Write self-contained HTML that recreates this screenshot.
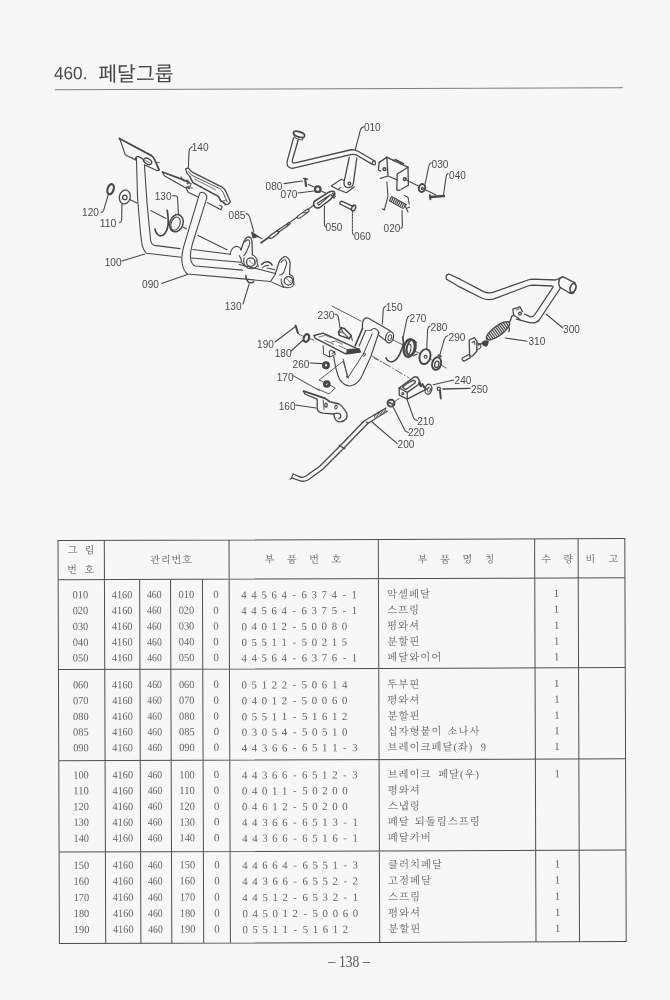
<!DOCTYPE html>
<html lang="ko"><head><meta charset="utf-8"><title>460. 페달그룹</title>
<style>
html,body{margin:0;padding:0;background:#f7f7f7;}
body{width:670px;height:1000px;overflow:hidden;position:relative;}
svg{position:absolute;left:0;top:0;display:block;filter:grayscale(1);}
text{font-family:"Liberation Serif","Noto Serif CJK SC",serif;fill:#4a4a4a;}
.ttl text{font-family:"Liberation Sans","Noto Sans CJK KR",sans-serif;fill:#484848;}
.tl *{fill:none;stroke:#4e4e4e;stroke-width:1;}
.pn text{fill:#5a5a5a;}
.hd text{fill:#606060;}
.bd text{fill:#626262;}
.bd .k{letter-spacing:0.95px;}
.dg{fill:none;stroke:#484848;stroke-width:1;stroke-linecap:round;stroke-linejoin:round;}
.dg text{font-family:"Liberation Sans","Noto Sans CJK KR",sans-serif;fill:#4c4c4c;stroke:none;font-size:10px;}
</style></head>
<body>
<svg width="670" height="1000" viewBox="0 0 670 1000">
<rect width="670" height="1000" fill="#f7f7f7"/>
<g>
<g class="ttl" transform="rotate(-0.2 339 88.75)">
<g><text x="54" y="78.4" font-size="18" textLength="33.5" lengthAdjust="spacingAndGlyphs">460.</text>
<text x="98.2" y="80.4" font-size="20.5" textLength="75.5" lengthAdjust="spacingAndGlyphs">페달그룹</text></g>
<path d="M55 88.75H623" stroke="#707070" stroke-width="0.9" fill="none"/>
</g>
<g class="dg">
<g transform="translate(90 120) scale(0.2)" stroke-width="5.4">
<path d="M232 186L238 395L252 560Q258 620 264 636Q270 656 282 666L455 686"/>
<path d="M272 224L285 412L296 528L303 600Q306 622 322 627L450 643"/>
<ellipse cx="174" cy="385" rx="27" ry="35" transform="rotate(14 174 385)" stroke-width="6.48"/>
<circle cx="174" cy="387" r="11" stroke-width="6.48"/>
<ellipse cx="103" cy="346" rx="15" ry="26" transform="rotate(18 103 346)" stroke-width="10.8"/>
<path d="M92 372L68 452Q64 462 56 462M160 420L158 500Q157 512 148 514"/>
<path d="M199 397L234 415M304 453L380 492M466 536L482 545M540 577L685 649"/>
<ellipse cx="432" cy="516" rx="33" ry="44" transform="rotate(20 432 516)" stroke-width="7.56"/>
<ellipse cx="428" cy="518" rx="22" ry="34" transform="rotate(20 428 518)"/>
<path d="M386 452Q394 500 390 528Q380 580 350 580Q330 572 325 546" stroke-width="8.64"/>
<path d="M414 378L432 380Q438 382 438 392L442 470"/>
<path d="M512 134Q496 140 495 158L492 236"/>
</g>

<g transform="translate(100 125) scale(0.14925)" stroke-width="7.56">
<path d="M130 90L345 205Q362 218 370 240L396 300" stroke-width="11.88"/>
<path d="M130 90L142 120L168 196Q172 204 184 208L236 232M300 268L384 306L396 300"/>
<path d="M238 234Q236 208 258 212Q290 222 300 252"/>
<path d="M292 232Q300 218 318 222L340 236Q352 246 344 260Q334 270 318 264L298 250Q288 242 292 232Z" stroke-width="8.64"/>
<path d="M306 238L334 256" stroke-width="5.4"/>
<path d="M384 250L400 253" stroke-width="5.4"/>
</g>
<g transform="translate(160 160) scale(0.1194)" stroke-width="9.07">
<path d="M215 75Q228 64 242 72L266 100L515 225Q538 238 548 256L590 350L570 370L545 375" stroke-width="10.8"/>
<path d="M215 75L225 110L250 140"/>
<path d="M236 96L262 126L500 240Q520 252 528 270L562 350" stroke-width="7.56"/>
<path d="M250 140L276 190L480 300Q498 312 506 340L545 366" stroke-width="12.96" stroke-dasharray="16 4"/>
<path d="M290 160L470 252" stroke-width="6.48" stroke-dasharray="10 7"/>
<path d="M505 340L520 346L545 340" stroke-width="7.56"/>
<path d="M20 100L180 160L244 186" stroke-width="14.04"/>
<path d="M20 100L36 132L220 236L236 270L320 310"/>
<path d="M176 140L196 176L236 168L226 200L262 196L248 232L272 236M220 236L250 216" stroke-width="7.56"/>
<path d="M226 226L244 238" stroke-width="12.96"/>
<path d="M396 356L510 416L520 390L500 380" />
</g>
<g transform="translate(150 130) scale(0.2)" stroke-width="5.4">
<path d="M480 418Q494 420 497 432L519 508"/>
<path d="M508 510L541 532L516 540Z" fill="#444" stroke-width="5.4"/>
<path d="M534 530L560 544"/>
</g>
<g transform="translate(160 180) scale(0.13433)" stroke-width="7.99">
<path d="M295 100Q315 80 340 105Q350 118 348 135"/>
<path d="M295 100L175 500Q158 570 165 620Q175 680 205 700L639 738L822 756"/>
<path d="M348 135L240 480Q222 550 228 590Q238 632 262 640L614 671"/>
<path d="M243 517L523 553M235 580L602 612"/>
<path d="M-283 603L-112 551M12 771L204 704"/>
</g>
<g transform="translate(190 225) scale(0.16418)" stroke-width="6.48">
<path d="M245 180Q250 140 280 130Q305 132 312 152"/>
<path d="M300 186Q312 200 314 222"/>
<path d="M310 152L330 96Q342 72 360 72Q378 78 378 110L380 182" stroke-width="7.56"/>
<path d="M334 104Q346 86 358 92Q368 100 362 120L345 160Q338 180 328 186" stroke-width="6.48"/>
<circle cx="370" cy="226" r="26" stroke-width="7.56"/>
<path d="M392 210L398 238M360 215L384 240" stroke-width="4.32"/>
<path d="M330 200Q322 232 338 252Q356 270 384 266Q402 260 408 248"/>
<path d="M380 182Q400 190 410 215"/>
<path d="M406 216L416 256M420 270L520 296M300 240L420 270"/>
<path d="M436 240Q452 222 476 224Q494 230 500 244" stroke-width="9.72"/>
<path d="M440 262Q456 244 478 246M470 262L516 272"/>
<path d="M520 296L544 222Q558 196 580 192Q604 198 610 230L606 302" stroke-width="7.56"/>
<path d="M554 228Q566 208 580 212Q592 222 588 240L570 290Q560 306 546 304"/>
<circle cx="600" cy="340" r="26" stroke-width="7.56"/>
<path d="M588 326L612 352M618 340L640 366" stroke-width="4.32"/>
<path d="M556 328Q552 360 572 376Q600 390 626 372Q640 352 626 312L606 302"/>
<path d="M490 345L520 300M498 348L572 380"/>
<path d="M310 226L336 250"/>
<path d="M340 308Q342 340 360 350Q376 354 388 346" stroke-width="9.72"/>
<path d="M360 360L323 481"/>
</g>
<g transform="translate(250 110) scale(0.2)" stroke-width="5.4">
<ellipse cx="245" cy="122" rx="29" ry="13" transform="rotate(18 245 122)" stroke-width="8.64"/>
<path d="M222 128L226 140M266 140L262 150M226 140Q240 150 262 150" stroke-width="4.32"/>
<path d="M218 138L186 256Q180 290 212 292L508 222Q522 220 534 226L612 272" stroke-width="6.48"/>
<path d="M242 146L212 250Q208 268 226 264L500 200Q522 196 540 206L626 256" stroke-width="6.48"/>
<ellipse cx="620" cy="265" rx="7" ry="10" transform="rotate(-30 620 265)"/>
<path d="M496 238L470 362Q468 384 488 388Q510 390 516 372L534 240" stroke-width="6.48"/>
<circle cx="497" cy="368" r="7" stroke-width="6.48"/>
<path d="M406 380L456 346L470 352M406 380L440 398L482 414L522 384M440 398L452 388"/>
<path d="M276 344L280 380" stroke-width="10.8"/>
<path d="M268 342L288 346" stroke-width="6.48"/>
<circle cx="339" cy="396" r="14" stroke-width="10.8"/>
<path d="M170 368L262 355M240 415L320 405M292 372L318 384M358 406L380 416"/>
<path d="M458 456L516 482M450 470L506 498M458 456Q448 460 450 470" stroke-width="6.48"/>
<ellipse cx="518" cy="490" rx="9" ry="15" transform="rotate(25 518 490)" stroke-width="7.56"/>
<path d="M372 482L372 570Q373 584 382 586"/>
<path d="M512 506L512 610Q513 624 522 626" stroke-dasharray="9 6"/>
<path d="M570 84Q556 86 552 100L526 200"/>
</g>

<g transform="translate(250 170) scale(0.1791)" stroke-width="6.05">
<path d="M358 176L440 124Q456 116 470 120L474 134L448 166L392 208Q374 218 362 206Q350 192 358 176Z" stroke-width="8.64"/>
<path d="M376 186L446 140Q440 150 384 196Z" stroke-width="6.48"/>
<path d="M452 138L470 156M462 130L474 146" stroke-width="8.64"/>
<path d="M356 196L322 222" stroke-width="6.48"/>
<path d="M322 218L268 256Q260 264 266 268Q272 272 282 266L330 230Q332 222 322 218Z" stroke-width="6.48"/>
<path d="M300 240Q312 232 318 238" stroke-width="5.4"/>
<path d="M262 264L218 296M214 292L206 308L226 300" stroke-width="6.48"/>
<path d="M208 300L152 338L158 348L214 310" stroke-width="6.48"/>
<path d="M150 340L112 366Q104 374 110 380Q118 384 126 378L160 352Q162 342 150 340Z" stroke-width="7.56"/>
<path d="M108 374L62 406" stroke-width="9.72"/>
</g>
<g transform="translate(360 120) scale(0.2)" stroke-width="5.4">
<path d="M96 212L134 186L240 236" stroke-width="7.56" stroke-dasharray="14 5"/>
<path d="M96 212L92 250L104 256M134 186L140 280L102 292M140 280L186 300" stroke-width="6.48"/>
<path d="M240 236L186 270L184 350L200 352M240 236L242 326L206 346" stroke-width="6.48"/>
<circle cx="122" cy="246" r="7" stroke-width="7.56"/>
<circle cx="224" cy="296" r="7" stroke-width="7.56"/>
<path d="M176 198L216 218" stroke-width="8.64" stroke-dasharray="8 6"/>
<path d="M236 302L292 330M330 350L378 374" />
<ellipse cx="310" cy="340" rx="16" ry="20" transform="rotate(15 310 340)" stroke-width="9.72"/>
<circle cx="312" cy="342" r="5" stroke-width="5.4"/>
<path d="M350 385L420 380" stroke-width="11.88"/>
<path d="M350 376L352 396" stroke-width="9.72"/>
<path d="M150 392L226 432" stroke-width="25.92" stroke-dasharray="6 4" stroke-linecap="butt"/>
<path d="M146 404L214 442M160 384L232 424" stroke-width="5.4"/>
<path d="M134 310L140 380L122 450L112 444" />
<path d="M222 378L240 386L246 420M226 430L240 460M236 440L248 436"/>
<path d="M210 452L212 530Q212 540 204 542"/>
<path d="M356 214Q346 218 344 232L326 318"/>
<path d="M440 268Q432 272 430 286L418 374"/>
</g>
<g transform="translate(250 300) scale(0.2)" stroke-width="5.4">
<path d="M125 210L226 134"/>
<path d="M228 128L240 166" stroke-width="9.72"/>
<path d="M205 255L266 200"/>
<ellipse cx="282" cy="190" rx="13" ry="20" transform="rotate(18 282 190)" stroke-width="10.8"/>
<path d="M296 192L318 200M246 172L262 180" stroke-width="4.32"/>
<path d="M300 315L360 318"/>
<circle cx="380" cy="326" r="13" stroke-width="14.04"/>
<path d="M215 378L346 452"/>
<circle cx="384" cy="420" r="12" stroke-width="14.04"/>
<path d="M346 400L466 306L490 386M346 400L426 440L396 470L340 446" stroke-width="4.32"/>
<path d="M425 70Q440 72 442 86L450 140"/>
<path d="M442 162L456 138L471 142L505 176L497 194L447 177Z" stroke-width="7.56"/>
<path d="M456 138L463 159L497 194M463 159L442 162M505 176L512 202" stroke-width="5.4"/>
<path d="M410 30L556 106" stroke-width="4.32"/>
<path d="M620 290L670 316" stroke-width="4.32" stroke-linecap="butt" stroke-dasharray="24 9 7 9"/>
<path d="M228 525L330 540"/>
<path d="M268 456L376 492" stroke-width="9.72"/>
<path d="M268 456L274 470L336 496L336 546Q340 562 366 566L420 570Q420 598 440 608Q464 614 482 594Q490 574 478 556Q462 530 446 520L404 510L376 492" stroke-width="6.48"/>
<path d="M420 570Q440 560 452 572Q458 586 444 594" stroke-width="6.48"/>
<ellipse cx="380" cy="526" rx="6" ry="10" stroke-width="6.48"/>
<ellipse cx="430" cy="536" rx="6" ry="9" transform="rotate(20 430 536)" stroke-width="5.4"/>
<path d="M366 500L370 548M380 496L396 512" stroke-width="4.32"/>
</g>

<g transform="translate(295 320) scale(0.1194)" stroke-width="9.07">
<path d="M160 130L236 110L530 244" stroke-width="11.88"/>
<path d="M160 130L168 152L420 282L546 266" stroke-width="10.8"/>
<path d="M200 142L256 128L300 148M250 170L330 206M300 186L340 176L400 204M370 216L440 250" stroke-width="6.48" stroke-dasharray="14 8"/>
<path d="M440 246L540 240L550 270L430 286Z" fill="#444" stroke-width="6.48"/>
<path d="M236 214L240 286L290 310L336 290L332 262M290 310L288 262L300 250L330 268L312 282" stroke-width="8.64"/>
</g>
<g transform="translate(360 290) scale(0.2)" stroke-width="5.4">
<path d="M130 80Q118 84 116 98L112 170"/>
<path d="M60 330L246 440" stroke-width="4.32" stroke-linecap="butt" stroke-dasharray="40 10 8 10"/>
<path d="M246 130Q236 134 234 148L216 234"/>
<path d="M214 236Q222 270 206 302Q190 350 160 360Q138 358 130 340" stroke-width="8.64"/>
<ellipse cx="246" cy="290" rx="27" ry="44" transform="rotate(12 246 290)" stroke-width="11.88"/>
<ellipse cx="257" cy="288" rx="22" ry="40" transform="rotate(12 257 288)" stroke-width="8.64"/>
<ellipse cx="242" cy="296" rx="12" ry="26" transform="rotate(12 242 296)" stroke-width="5.4"/>
<path d="M262 250L284 262M266 330L286 320" stroke-width="5.4"/>
<path d="M350 180Q340 184 338 198L334 290"/>
<ellipse cx="325" cy="333" rx="27" ry="38" transform="rotate(15 325 333)" stroke-width="9.72"/>
<circle cx="328" cy="334" r="7"/>
<path d="M440 228Q426 232 422 246L400 322"/>
<ellipse cx="383" cy="368" rx="22" ry="32" transform="rotate(15 383 368)" stroke-width="9.72"/>
<ellipse cx="384" cy="372" rx="10" ry="17" transform="rotate(15 384 372)" stroke-width="6.48"/>
<path d="M392 326L404 332" stroke-width="9.72"/>
<path d="M166 250L214 274M276 306L300 318M352 346L366 354M408 376L430 390" stroke-width="4.32"/>
<path d="M546 250L572 238L584 256L584 306L560 332L548 330L546 250Z" stroke-width="6.48"/>
<path d="M560 262L572 256L574 272" stroke-width="5.4"/>
<path d="M512 340L548 320M520 356L552 338M512 340Q506 350 520 356" stroke-width="6.48"/>
<path d="M584 300L604 288L604 272L586 264" stroke-width="5.4"/>
<path d="M612 268Q622 254 640 262L632 280Q620 282 612 268Z" fill="#444" stroke-width="6.48"/>
<path d="M196 490L270 436Q284 430 292 444L300 462" stroke-width="7.56"/>
<path d="M196 490L196 526L236 546L340 492" stroke-width="6.48"/>
<path d="M196 490L236 512L236 546M236 512L302 466" stroke-width="6.48"/>
<path d="M212 486Q240 462 266 452Q280 452 276 464L230 498Z" stroke-width="6.48"/>
<circle cx="214" cy="518" r="5" stroke-width="5.4"/>
<path d="M296 466L306 480" stroke-width="12.96"/>
<path d="M312 470L322 488" stroke-width="9.72"/>
<ellipse cx="342" cy="496" rx="17" ry="25" transform="rotate(12 342 496)" stroke-width="6.48"/>
<ellipse cx="344" cy="498" rx="8" ry="12" transform="rotate(12 344 498)" stroke-width="4.32"/>
<path d="M468 450L366 474"/>
<path d="M550 492L414 495" stroke-width="6.48"/>
<circle cx="394" cy="494" r="8" stroke-width="6.48"/>
<path d="M400 502L404 542" stroke-width="9.72"/>
<path d="M236 550L268 640Q274 652 286 652"/>
<circle cx="155" cy="566" r="17" stroke-width="9.72"/>
<path d="M140 560L170 574" stroke-width="8.64"/>
<path d="M176 556L196 542" stroke-width="4.32"/>
<path d="M166 586L224 700Q230 712 242 712"/>
</g>
<g transform="translate(320 300) scale(0.14925)" stroke-width="7.56">
<path d="M472 208L328 124Q300 110 288 142Q282 164 285 190" stroke-width="8.64"/>
<path d="M396 238L442 274"/>
<ellipse cx="466" cy="250" rx="26" ry="38" transform="rotate(18 466 250)" stroke-width="8.64"/>
<ellipse cx="468" cy="252" rx="12" ry="19" transform="rotate(18 468 252)" stroke-width="6.48"/>
<path d="M285 190L236 306" stroke-width="10.8"/>
<path d="M306 204L262 308"/>
<path d="M345 202Q366 174 395 216"/>
<path d="M395 216L340 380L276 520Q250 570 200 576Q160 574 130 530Q104 470 92 376"/>
<path d="M350 226L290 362L186 522L156 396" stroke-width="6.48"/>
<path d="M306 204L345 202" stroke-width="5.4"/>
<ellipse cx="296" cy="366" rx="7" ry="12" transform="rotate(28 296 366)" stroke-width="5.4"/>
<path d="M176 512L190 524" stroke-width="6.48"/>
</g>
<g transform="translate(460 250) scale(0.2)" stroke-width="5.4">
<path d="M-67 146Q-76 124 -55 120L0 146L118 208Q140 218 164 212L340 150Q352 146 366 146L478 150L512 134" stroke-width="6.48"/>
<path d="M-67 146L0 186L108 240Q136 252 166 246L340 180Q352 176 366 176L462 180" stroke-width="6.48"/>
<path d="M502 190L396 350Q380 368 352 364L282 346" stroke-width="6.48"/>
<path d="M466 184L376 320Q366 336 352 334L322 320" stroke-width="6.48"/>
<path d="M496 150Q498 138 516 134L576 164M500 186L546 214" stroke-width="6.48"/>
<path d="M496 150Q490 170 500 186" stroke-width="6.48"/>
<ellipse cx="565" cy="190" rx="14" ry="23" transform="rotate(18 565 190)" stroke-width="8.64"/>
<path d="M546 214Q556 222 570 214" stroke-width="6.48"/>
<path d="M264 296L300 284L312 308M264 296L268 326L300 346" stroke-width="6.48"/>
<circle cx="300" cy="318" r="7" stroke-width="6.48"/>
<path d="M282 300L296 294" stroke-width="4.32"/>
<clipPath id="c310"><ellipse cx="190" cy="404" rx="70" ry="24" transform="rotate(-36 190 404)"/></clipPath>
<path d="M126 450L254 358" stroke-width="64.8" stroke-dasharray="6 5" stroke-linecap="butt" clip-path="url(#c310)"/>
<ellipse cx="190" cy="404" rx="70" ry="24" transform="rotate(-36 190 404)" stroke-width="6.48"/>
<path d="M246 362Q256 350 258 332L270 326M240 380Q252 392 244 408" stroke-width="6.48"/>
<path d="M112 462Q124 450 140 456L136 474Q122 478 112 462Z" fill="#444" stroke-width="6.48"/>
<path d="M90 476L112 466" stroke-width="6.48"/>
<path d="M430 320L514 390M226 440L336 456"/>
</g>
<g transform="translate(280 380) scale(0.2)" stroke-width="5.4">
<path d="M530 140L420 205L300 330L200 430L130 480Q112 490 98 484L66 470" stroke-width="6.48"/>
<path d="M536 156L440 216L320 340L214 446L140 500Q118 510 102 504L58 490" stroke-width="6.48"/>
<path d="M66 470L56 492M50 496L64 490" stroke-width="5.4"/>
<path d="M296 326L324 344" stroke-width="6.48"/>
<path d="M430 210L446 214" stroke-width="5.4"/>
<path d="M470 182L532 146" stroke-width="17.28" stroke-dasharray="4 4" stroke-linecap="butt"/>
<path d="M460 210L586 318"/>
</g>
<g class="lb">
<text x="363.9" y="131" textLength="16.8" lengthAdjust="spacingAndGlyphs">010</text>
<text x="191.7" y="150.5" textLength="16.8" lengthAdjust="spacingAndGlyphs">140</text>
<text x="154.7" y="200.4" textLength="16.8" lengthAdjust="spacingAndGlyphs">130</text>
<text x="82.1" y="216" textLength="16.8" lengthAdjust="spacingAndGlyphs">120</text>
<text x="99.7" y="227" textLength="16.8" lengthAdjust="spacingAndGlyphs">110</text>
<text x="104.7" y="266" textLength="16.8" lengthAdjust="spacingAndGlyphs">100</text>
<text x="142.1" y="288.4" textLength="16.8" lengthAdjust="spacingAndGlyphs">090</text>
<text x="228.6" y="219.4" textLength="16.8" lengthAdjust="spacingAndGlyphs">085</text>
<text x="224.7" y="309.6" textLength="16.8" lengthAdjust="spacingAndGlyphs">130</text>
<text x="265.6" y="189.6" textLength="16.8" lengthAdjust="spacingAndGlyphs">080</text>
<text x="280.6" y="198.4" textLength="16.8" lengthAdjust="spacingAndGlyphs">070</text>
<text x="325.6" y="231" textLength="16.8" lengthAdjust="spacingAndGlyphs">050</text>
<text x="354.1" y="239.6" textLength="16.8" lengthAdjust="spacingAndGlyphs">060</text>
<text x="383.6" y="232.4" textLength="16.8" lengthAdjust="spacingAndGlyphs">020</text>
<text x="431.6" y="168" textLength="16.8" lengthAdjust="spacingAndGlyphs">030</text>
<text x="449.1" y="179" textLength="16.8" lengthAdjust="spacingAndGlyphs">040</text>
<text x="257.1" y="347.6" textLength="16.8" lengthAdjust="spacingAndGlyphs">190</text>
<text x="274.7" y="357" textLength="16.8" lengthAdjust="spacingAndGlyphs">180</text>
<text x="292.6" y="368" textLength="16.8" lengthAdjust="spacingAndGlyphs">260</text>
<text x="276.7" y="381" textLength="16.8" lengthAdjust="spacingAndGlyphs">170</text>
<text x="278.7" y="410.4" textLength="16.8" lengthAdjust="spacingAndGlyphs">160</text>
<text x="317.6" y="319" textLength="16.8" lengthAdjust="spacingAndGlyphs">230</text>
<text x="385.7" y="311" textLength="16.8" lengthAdjust="spacingAndGlyphs">150</text>
<text x="409.6" y="321.6" textLength="16.8" lengthAdjust="spacingAndGlyphs">270</text>
<text x="430.6" y="331" textLength="16.8" lengthAdjust="spacingAndGlyphs">280</text>
<text x="448.6" y="341" textLength="16.8" lengthAdjust="spacingAndGlyphs">290</text>
<text x="454.6" y="384" textLength="16.8" lengthAdjust="spacingAndGlyphs">240</text>
<text x="471.1" y="392.6" textLength="16.8" lengthAdjust="spacingAndGlyphs">250</text>
<text x="417.2" y="424.6" textLength="16.8" lengthAdjust="spacingAndGlyphs">210</text>
<text x="407.9" y="436.4" textLength="16.8" lengthAdjust="spacingAndGlyphs">220</text>
<text x="397.6" y="448" textLength="16.8" lengthAdjust="spacingAndGlyphs">200</text>
<text x="563.1" y="333" textLength="16.8" lengthAdjust="spacingAndGlyphs">300</text>
<text x="528.5" y="345" textLength="16.8" lengthAdjust="spacingAndGlyphs">310</text>
</g>
</g>
<g class="tb" transform="rotate(-0.2 342.1 741.1)">
<g class="tl"><rect x="58.7" y="539.6" width="566.8" height="403.0"/><path d="M58.7 578.8H625.5M58.7 668.6H625.5M58.7 759.8H625.5M58.7 851.1H625.5M105.0 539.6V942.6M140.2 578.8V942.6M171.1 578.8V942.6M203.0 578.8V942.6M229.7 539.6V942.6M379.0 539.6V942.6M535.3 539.6V942.6M578.8 539.6V942.6"/></g><g class="hd"><text x="73.2 90.2" y="552.6" font-size="10" text-anchor="middle">그림</text><text x="72.8 90" y="572.0" font-size="10" text-anchor="middle">번호</text><text x="155.8 166.5 177 187.7" y="562.6" font-size="10" text-anchor="middle">관리번호</text><text x="270.2 292.4 314.6 336.9" y="562.6" font-size="10" text-anchor="middle">부품번호</text><text x="423.2 445.6 468 490.3" y="563.0" font-size="10" text-anchor="middle">부품명칭</text><text x="546.6 569" y="563.2" font-size="10" text-anchor="middle">수량</text><text x="591 614.2" y="563.3000000000001" font-size="10" text-anchor="middle">비고</text></g><g class="bd"><text x="80.9" y="597.4" font-size="10.8" text-anchor="middle" textLength="15.6" lengthAdjust="spacingAndGlyphs">010</text><text x="122.6" y="597.4" font-size="10.8" text-anchor="middle" textLength="20.6" lengthAdjust="spacingAndGlyphs">4160</text><text x="154.8" y="597.4" font-size="10.8" text-anchor="middle" textLength="14.6" lengthAdjust="spacingAndGlyphs">460</text><text x="186.9" y="597.4" font-size="10.8" text-anchor="middle" textLength="15.6" lengthAdjust="spacingAndGlyphs">010</text><text x="216.4" y="597.4" font-size="10.8" text-anchor="middle">0</text><text x="244.5 254.5 264.6 274.6 284.6 294.6 304.7 314.7 324.7 334.8 344.8 354.8" y="598.2" font-size="10.8" text-anchor="middle">44564-6374-1</text><text class="k" x="387.5" y="597.9" font-size="10.4">악셀페달</text><text x="557.0" y="597.8" font-size="10.8" text-anchor="middle">1</text><text x="80.9" y="613.2" font-size="10.8" text-anchor="middle" textLength="15.6" lengthAdjust="spacingAndGlyphs">020</text><text x="122.6" y="613.2" font-size="10.8" text-anchor="middle" textLength="20.6" lengthAdjust="spacingAndGlyphs">4160</text><text x="154.8" y="613.2" font-size="10.8" text-anchor="middle" textLength="14.6" lengthAdjust="spacingAndGlyphs">460</text><text x="186.9" y="613.2" font-size="10.8" text-anchor="middle" textLength="15.6" lengthAdjust="spacingAndGlyphs">020</text><text x="216.4" y="613.2" font-size="10.8" text-anchor="middle">0</text><text x="244.5 254.5 264.6 274.6 284.6 294.6 304.7 314.7 324.7 334.8 344.8 354.8" y="614.0" font-size="10.8" text-anchor="middle">44564-6375-1</text><text class="k" x="387.5" y="613.7" font-size="10.4">스프링</text><text x="557.0" y="613.6" font-size="10.8" text-anchor="middle">1</text><text x="80.9" y="629.0" font-size="10.8" text-anchor="middle" textLength="15.6" lengthAdjust="spacingAndGlyphs">030</text><text x="122.6" y="629.0" font-size="10.8" text-anchor="middle" textLength="20.6" lengthAdjust="spacingAndGlyphs">4160</text><text x="154.8" y="629.0" font-size="10.8" text-anchor="middle" textLength="14.6" lengthAdjust="spacingAndGlyphs">460</text><text x="186.9" y="629.0" font-size="10.8" text-anchor="middle" textLength="15.6" lengthAdjust="spacingAndGlyphs">030</text><text x="216.4" y="629.0" font-size="10.8" text-anchor="middle">0</text><text x="244.5 254.5 264.6 274.6 284.6 294.6 304.7 314.7 324.7 334.8 344.8" y="629.8" font-size="10.8" text-anchor="middle">04012-50080</text><text class="k" x="387.5" y="629.5" font-size="10.4">평와셔</text><text x="557.0" y="629.4" font-size="10.8" text-anchor="middle">1</text><text x="80.9" y="644.8" font-size="10.8" text-anchor="middle" textLength="15.6" lengthAdjust="spacingAndGlyphs">040</text><text x="122.6" y="644.8" font-size="10.8" text-anchor="middle" textLength="20.6" lengthAdjust="spacingAndGlyphs">4160</text><text x="154.8" y="644.8" font-size="10.8" text-anchor="middle" textLength="14.6" lengthAdjust="spacingAndGlyphs">460</text><text x="186.9" y="644.8" font-size="10.8" text-anchor="middle" textLength="15.6" lengthAdjust="spacingAndGlyphs">040</text><text x="216.4" y="644.8" font-size="10.8" text-anchor="middle">0</text><text x="244.5 254.5 264.6 274.6 284.6 294.6 304.7 314.7 324.7 334.8 344.8" y="645.6" font-size="10.8" text-anchor="middle">05511-50215</text><text class="k" x="387.5" y="645.3" font-size="10.4">분할핀</text><text x="557.0" y="645.2" font-size="10.8" text-anchor="middle">1</text><text x="80.9" y="660.5" font-size="10.8" text-anchor="middle" textLength="15.6" lengthAdjust="spacingAndGlyphs">050</text><text x="122.6" y="660.5" font-size="10.8" text-anchor="middle" textLength="20.6" lengthAdjust="spacingAndGlyphs">4160</text><text x="154.8" y="660.5" font-size="10.8" text-anchor="middle" textLength="14.6" lengthAdjust="spacingAndGlyphs">460</text><text x="186.9" y="660.5" font-size="10.8" text-anchor="middle" textLength="15.6" lengthAdjust="spacingAndGlyphs">050</text><text x="216.4" y="660.5" font-size="10.8" text-anchor="middle">0</text><text x="244.5 254.5 264.6 274.6 284.6 294.6 304.7 314.7 324.7 334.8 344.8 354.8" y="661.3" font-size="10.8" text-anchor="middle">44564-6376-1</text><text class="k" x="387.5" y="661.0" font-size="10.4">페달와이어</text><text x="557.0" y="660.9" font-size="10.8" text-anchor="middle">1</text><text x="80.9" y="687.4" font-size="10.8" text-anchor="middle" textLength="15.6" lengthAdjust="spacingAndGlyphs">060</text><text x="122.6" y="687.4" font-size="10.8" text-anchor="middle" textLength="20.6" lengthAdjust="spacingAndGlyphs">4160</text><text x="154.8" y="687.4" font-size="10.8" text-anchor="middle" textLength="14.6" lengthAdjust="spacingAndGlyphs">460</text><text x="186.9" y="687.4" font-size="10.8" text-anchor="middle" textLength="15.6" lengthAdjust="spacingAndGlyphs">060</text><text x="216.4" y="687.4" font-size="10.8" text-anchor="middle">0</text><text x="244.5 254.5 264.6 274.6 284.6 294.6 304.7 314.7 324.7 334.8 344.8" y="688.2" font-size="10.8" text-anchor="middle">05122-50614</text><text class="k" x="387.5" y="687.9" font-size="10.4">두부핀</text><text x="557.0" y="687.8" font-size="10.8" text-anchor="middle">1</text><text x="80.9" y="703.2" font-size="10.8" text-anchor="middle" textLength="15.6" lengthAdjust="spacingAndGlyphs">070</text><text x="122.6" y="703.2" font-size="10.8" text-anchor="middle" textLength="20.6" lengthAdjust="spacingAndGlyphs">4160</text><text x="154.8" y="703.2" font-size="10.8" text-anchor="middle" textLength="14.6" lengthAdjust="spacingAndGlyphs">460</text><text x="186.9" y="703.2" font-size="10.8" text-anchor="middle" textLength="15.6" lengthAdjust="spacingAndGlyphs">070</text><text x="216.4" y="703.2" font-size="10.8" text-anchor="middle">0</text><text x="244.5 254.5 264.6 274.6 284.6 294.6 304.7 314.7 324.7 334.8 344.8" y="704.0" font-size="10.8" text-anchor="middle">04012-50060</text><text class="k" x="387.5" y="703.7" font-size="10.4">평와셔</text><text x="557.0" y="703.6" font-size="10.8" text-anchor="middle">1</text><text x="80.9" y="719.1" font-size="10.8" text-anchor="middle" textLength="15.6" lengthAdjust="spacingAndGlyphs">080</text><text x="122.6" y="719.1" font-size="10.8" text-anchor="middle" textLength="20.6" lengthAdjust="spacingAndGlyphs">4160</text><text x="154.8" y="719.1" font-size="10.8" text-anchor="middle" textLength="14.6" lengthAdjust="spacingAndGlyphs">460</text><text x="186.9" y="719.1" font-size="10.8" text-anchor="middle" textLength="15.6" lengthAdjust="spacingAndGlyphs">080</text><text x="216.4" y="719.1" font-size="10.8" text-anchor="middle">0</text><text x="244.5 254.5 264.6 274.6 284.6 294.6 304.7 314.7 324.7 334.8 344.8" y="719.9" font-size="10.8" text-anchor="middle">05511-51612</text><text class="k" x="387.5" y="719.6" font-size="10.4">분할핀</text><text x="557.0" y="719.5" font-size="10.8" text-anchor="middle">1</text><text x="80.9" y="734.6" font-size="10.8" text-anchor="middle" textLength="15.6" lengthAdjust="spacingAndGlyphs">085</text><text x="122.6" y="734.6" font-size="10.8" text-anchor="middle" textLength="20.6" lengthAdjust="spacingAndGlyphs">4160</text><text x="154.8" y="734.6" font-size="10.8" text-anchor="middle" textLength="14.6" lengthAdjust="spacingAndGlyphs">460</text><text x="186.9" y="734.6" font-size="10.8" text-anchor="middle" textLength="15.6" lengthAdjust="spacingAndGlyphs">085</text><text x="216.4" y="734.6" font-size="10.8" text-anchor="middle">0</text><text x="244.5 254.5 264.6 274.6 284.6 294.6 304.7 314.7 324.7 334.8 344.8" y="735.4" font-size="10.8" text-anchor="middle">03054-50510</text><text class="k" x="387.5" y="735.1" font-size="10.4">십자형붙이 <tspan x="447.6">소나사</tspan></text><text x="557.0" y="735.0" font-size="10.8" text-anchor="middle">1</text><text x="80.9" y="750.4" font-size="10.8" text-anchor="middle" textLength="15.6" lengthAdjust="spacingAndGlyphs">090</text><text x="122.6" y="750.4" font-size="10.8" text-anchor="middle" textLength="20.6" lengthAdjust="spacingAndGlyphs">4160</text><text x="154.8" y="750.4" font-size="10.8" text-anchor="middle" textLength="14.6" lengthAdjust="spacingAndGlyphs">460</text><text x="186.9" y="750.4" font-size="10.8" text-anchor="middle" textLength="15.6" lengthAdjust="spacingAndGlyphs">090</text><text x="216.4" y="750.4" font-size="10.8" text-anchor="middle">0</text><text x="244.5 254.5 264.6 274.6 284.6 294.6 304.7 314.7 324.7 334.8 344.8 354.8" y="751.2" font-size="10.8" text-anchor="middle">44366-6511-3</text><text class="k" x="387.5" y="750.9" font-size="10.4">브레이크페달(좌) <tspan x="480.7">9</tspan></text><text x="557.0" y="750.8" font-size="10.8" text-anchor="middle">1</text><text x="80.9" y="777.6" font-size="10.8" text-anchor="middle" textLength="15.6" lengthAdjust="spacingAndGlyphs">100</text><text x="122.6" y="777.6" font-size="10.8" text-anchor="middle" textLength="20.6" lengthAdjust="spacingAndGlyphs">4160</text><text x="154.8" y="777.6" font-size="10.8" text-anchor="middle" textLength="14.6" lengthAdjust="spacingAndGlyphs">460</text><text x="186.9" y="777.6" font-size="10.8" text-anchor="middle" textLength="15.6" lengthAdjust="spacingAndGlyphs">100</text><text x="216.4" y="777.6" font-size="10.8" text-anchor="middle">0</text><text x="244.5 254.5 264.6 274.6 284.6 294.6 304.7 314.7 324.7 334.8 344.8 354.8" y="778.4" font-size="10.8" text-anchor="middle">44366-6512-3</text><text class="k" x="387.5" y="778.1" font-size="10.4">브레이크 <tspan x="438.0">페달(우)</tspan></text><text x="557.0" y="778.0" font-size="10.8" text-anchor="middle">1</text><text x="80.9" y="793.4" font-size="10.8" text-anchor="middle" textLength="15.6" lengthAdjust="spacingAndGlyphs">110</text><text x="122.6" y="793.4" font-size="10.8" text-anchor="middle" textLength="20.6" lengthAdjust="spacingAndGlyphs">4160</text><text x="154.8" y="793.4" font-size="10.8" text-anchor="middle" textLength="14.6" lengthAdjust="spacingAndGlyphs">460</text><text x="186.9" y="793.4" font-size="10.8" text-anchor="middle" textLength="15.6" lengthAdjust="spacingAndGlyphs">110</text><text x="216.4" y="793.4" font-size="10.8" text-anchor="middle">0</text><text x="244.5 254.5 264.6 274.6 284.6 294.6 304.7 314.7 324.7 334.8 344.8" y="794.2" font-size="10.8" text-anchor="middle">04011-50200</text><text class="k" x="387.5" y="793.9" font-size="10.4">평와셔</text><text x="80.9" y="809.2" font-size="10.8" text-anchor="middle" textLength="15.6" lengthAdjust="spacingAndGlyphs">120</text><text x="122.6" y="809.2" font-size="10.8" text-anchor="middle" textLength="20.6" lengthAdjust="spacingAndGlyphs">4160</text><text x="154.8" y="809.2" font-size="10.8" text-anchor="middle" textLength="14.6" lengthAdjust="spacingAndGlyphs">460</text><text x="186.9" y="809.2" font-size="10.8" text-anchor="middle" textLength="15.6" lengthAdjust="spacingAndGlyphs">120</text><text x="216.4" y="809.2" font-size="10.8" text-anchor="middle">0</text><text x="244.5 254.5 264.6 274.6 284.6 294.6 304.7 314.7 324.7 334.8 344.8" y="810.0" font-size="10.8" text-anchor="middle">04612-50200</text><text class="k" x="387.5" y="809.7" font-size="10.4">스냅링</text><text x="80.9" y="824.9" font-size="10.8" text-anchor="middle" textLength="15.6" lengthAdjust="spacingAndGlyphs">130</text><text x="122.6" y="824.9" font-size="10.8" text-anchor="middle" textLength="20.6" lengthAdjust="spacingAndGlyphs">4160</text><text x="154.8" y="824.9" font-size="10.8" text-anchor="middle" textLength="14.6" lengthAdjust="spacingAndGlyphs">460</text><text x="186.9" y="824.9" font-size="10.8" text-anchor="middle" textLength="15.6" lengthAdjust="spacingAndGlyphs">130</text><text x="216.4" y="824.9" font-size="10.8" text-anchor="middle">0</text><text x="244.5 254.5 264.6 274.6 284.6 294.6 304.7 314.7 324.7 334.8 344.8 354.8" y="825.7" font-size="10.8" text-anchor="middle">44366-6513-1</text><text class="k" x="387.5" y="825.4" font-size="10.4">페달 <tspan x="414.5">되돌림스프링</tspan></text><text x="80.9" y="840.8" font-size="10.8" text-anchor="middle" textLength="15.6" lengthAdjust="spacingAndGlyphs">140</text><text x="122.6" y="840.8" font-size="10.8" text-anchor="middle" textLength="20.6" lengthAdjust="spacingAndGlyphs">4160</text><text x="154.8" y="840.8" font-size="10.8" text-anchor="middle" textLength="14.6" lengthAdjust="spacingAndGlyphs">460</text><text x="186.9" y="840.8" font-size="10.8" text-anchor="middle" textLength="15.6" lengthAdjust="spacingAndGlyphs">140</text><text x="216.4" y="840.8" font-size="10.8" text-anchor="middle">0</text><text x="244.5 254.5 264.6 274.6 284.6 294.6 304.7 314.7 324.7 334.8 344.8 354.8" y="841.6" font-size="10.8" text-anchor="middle">44366-6516-1</text><text class="k" x="387.5" y="841.3" font-size="10.4">페달카버</text><text x="80.9" y="867.8" font-size="10.8" text-anchor="middle" textLength="15.6" lengthAdjust="spacingAndGlyphs">150</text><text x="122.6" y="867.8" font-size="10.8" text-anchor="middle" textLength="20.6" lengthAdjust="spacingAndGlyphs">4160</text><text x="154.8" y="867.8" font-size="10.8" text-anchor="middle" textLength="14.6" lengthAdjust="spacingAndGlyphs">460</text><text x="186.9" y="867.8" font-size="10.8" text-anchor="middle" textLength="15.6" lengthAdjust="spacingAndGlyphs">150</text><text x="216.4" y="867.8" font-size="10.8" text-anchor="middle">0</text><text x="244.5 254.5 264.6 274.6 284.6 294.6 304.7 314.7 324.7 334.8 344.8 354.8" y="868.6" font-size="10.8" text-anchor="middle">44664-6551-3</text><text class="k" x="387.5" y="868.3" font-size="10.4">클러치페달</text><text x="557.0" y="868.2" font-size="10.8" text-anchor="middle">1</text><text x="80.9" y="883.8" font-size="10.8" text-anchor="middle" textLength="15.6" lengthAdjust="spacingAndGlyphs">160</text><text x="122.6" y="883.8" font-size="10.8" text-anchor="middle" textLength="20.6" lengthAdjust="spacingAndGlyphs">4160</text><text x="154.8" y="883.8" font-size="10.8" text-anchor="middle" textLength="14.6" lengthAdjust="spacingAndGlyphs">460</text><text x="186.9" y="883.8" font-size="10.8" text-anchor="middle" textLength="15.6" lengthAdjust="spacingAndGlyphs">160</text><text x="216.4" y="883.8" font-size="10.8" text-anchor="middle">0</text><text x="244.5 254.5 264.6 274.6 284.6 294.6 304.7 314.7 324.7 334.8 344.8 354.8" y="884.6" font-size="10.8" text-anchor="middle">44366-6552-2</text><text class="k" x="387.5" y="884.3" font-size="10.4">고정페달</text><text x="557.0" y="884.2" font-size="10.8" text-anchor="middle">1</text><text x="80.9" y="900.0" font-size="10.8" text-anchor="middle" textLength="15.6" lengthAdjust="spacingAndGlyphs">170</text><text x="122.6" y="900.0" font-size="10.8" text-anchor="middle" textLength="20.6" lengthAdjust="spacingAndGlyphs">4160</text><text x="154.8" y="900.0" font-size="10.8" text-anchor="middle" textLength="14.6" lengthAdjust="spacingAndGlyphs">460</text><text x="186.9" y="900.0" font-size="10.8" text-anchor="middle" textLength="15.6" lengthAdjust="spacingAndGlyphs">170</text><text x="216.4" y="900.0" font-size="10.8" text-anchor="middle">0</text><text x="244.5 254.5 264.6 274.6 284.6 294.6 304.7 314.7 324.7 334.8 344.8 354.8" y="900.8" font-size="10.8" text-anchor="middle">44512-6532-1</text><text class="k" x="387.5" y="900.5" font-size="10.4">스프링</text><text x="557.0" y="900.4" font-size="10.8" text-anchor="middle">1</text><text x="80.9" y="916.1" font-size="10.8" text-anchor="middle" textLength="15.6" lengthAdjust="spacingAndGlyphs">180</text><text x="122.6" y="916.1" font-size="10.8" text-anchor="middle" textLength="20.6" lengthAdjust="spacingAndGlyphs">4160</text><text x="154.8" y="916.1" font-size="10.8" text-anchor="middle" textLength="14.6" lengthAdjust="spacingAndGlyphs">460</text><text x="186.9" y="916.1" font-size="10.8" text-anchor="middle" textLength="15.6" lengthAdjust="spacingAndGlyphs">180</text><text x="216.4" y="916.1" font-size="10.8" text-anchor="middle">0</text><text x="244.5 254.5 264.6 274.6 284.6 294.6 304.7 314.7 324.7 334.8 344.8 354.8" y="916.9" font-size="10.8" text-anchor="middle">045012-50060</text><text class="k" x="387.5" y="916.6" font-size="10.4">평와셔</text><text x="557.0" y="916.5" font-size="10.8" text-anchor="middle">1</text><text x="80.9" y="932.0" font-size="10.8" text-anchor="middle" textLength="15.6" lengthAdjust="spacingAndGlyphs">190</text><text x="122.6" y="932.0" font-size="10.8" text-anchor="middle" textLength="20.6" lengthAdjust="spacingAndGlyphs">4160</text><text x="154.8" y="932.0" font-size="10.8" text-anchor="middle" textLength="14.6" lengthAdjust="spacingAndGlyphs">460</text><text x="186.9" y="932.0" font-size="10.8" text-anchor="middle" textLength="15.6" lengthAdjust="spacingAndGlyphs">190</text><text x="216.4" y="932.0" font-size="10.8" text-anchor="middle">0</text><text x="244.5 254.5 264.6 274.6 284.6 294.6 304.7 314.7 324.7 334.8 344.8" y="932.8" font-size="10.8" text-anchor="middle">05511-51612</text><text class="k" x="387.5" y="932.5" font-size="10.4">분할핀</text><text x="557.0" y="932.4" font-size="10.8" text-anchor="middle">1</text></g>
</g>
<g class="pn"><text x="331.5" y="965.6" font-size="17" text-anchor="middle" textLength="7.2" lengthAdjust="spacingAndGlyphs">–</text><text x="349.2" y="967" font-size="17" text-anchor="middle" textLength="20.5" lengthAdjust="spacingAndGlyphs">138</text><text x="366.4" y="965.6" font-size="17" text-anchor="middle" textLength="7.2" lengthAdjust="spacingAndGlyphs">–</text></g>
</g>
</svg>
</body></html>
